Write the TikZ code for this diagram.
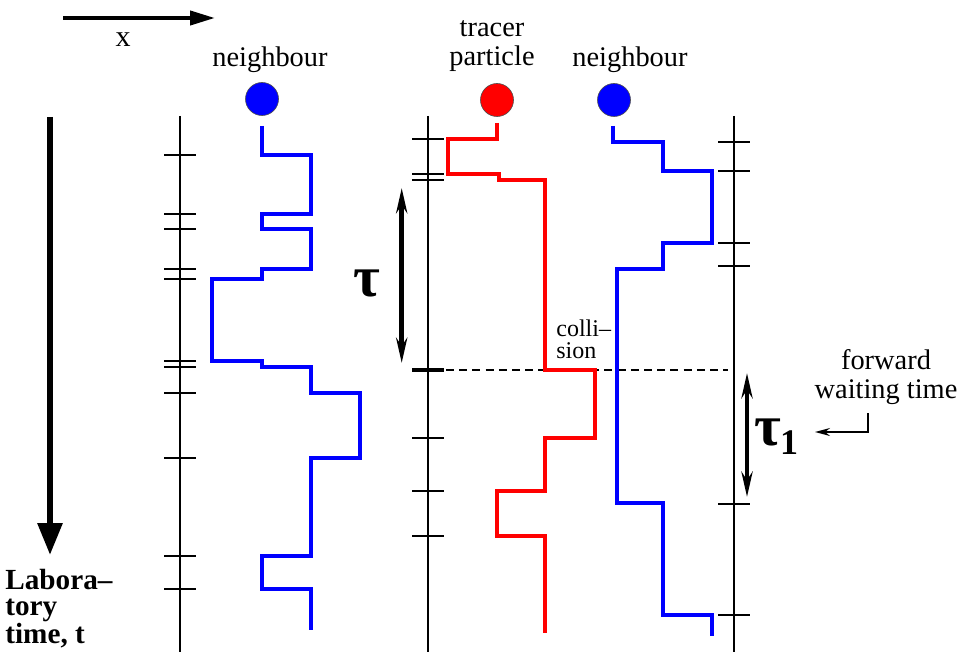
\documentclass[tikz,border=0pt]{standalone}
\usepackage{fontspec}
\setmainfont{Liberation Serif}
\usetikzlibrary{arrows.meta}

\begin{document}
\begin{tikzpicture}[x=0.5pt,y=-0.5pt,
  axisline/.style={line width=1pt},
  tickmark/.style={line width=1pt},
  trajblue/.style={blue, line width=1.8pt, line join=miter},
  trajred/.style={red, line width=1.8pt, line join=miter},
  ball/.style={circle, minimum size=16.5pt, inner sep=0pt, draw=black!70, line width=0.3pt},
  lbl/.style={font=\fontsize{14.2}{14.5}\selectfont, align=center, inner sep=0pt},
  spanarrow/.style={line width=2.3pt, {Stealth[length=12.5pt,width=5.5pt]}-{Stealth[length=12.5pt,width=5.5pt]}},
  greek/.style={font=\fontsize{29}{29}\selectfont\bfseries, inner sep=0pt},
]
\useasboundingbox (0,0) rectangle (961,652);

% direction of x and of laboratory time
\draw[line width=2pt, -{Triangle[length=12.5pt,width=7pt]}] (63,18) -- (215,18);
\node[font=\fontsize{15}{15}\selectfont, inner sep=0pt] (xlabel) at (123,40) {x};
\draw[line width=3pt, -{Triangle[length=16pt,width=12pt]}] (50,117) -- (50,555);
\node[font=\fontsize{14.6}{12.8}\selectfont\bfseries, align=left, anchor=west, inner sep=0pt]
  (labtime) at (5,609) {Labora–\\tory\\time, t};

% time axes with collision ticks
\foreach \ax/\ticks in {180/{155,214,229,269,279,361,367,393,458,556,589},
                        428/{139,174,180,438,491,536},
                        734/{142,171,243,266,504,615}}{
  \draw[axisline] (\ax,116) -- (\ax,652);
  \foreach \t in \ticks
    \draw[tickmark] (\ax-16,\t) -- (\ax+16,\t);
}
% the collision of the tracer and its continuation
\draw[dashed, dash pattern=on 4pt off 2.6pt, line width=0.9pt] (446,370) -- (728,370);
\draw[line width=1.7pt] (412,370) -- (444,370);

% particles
\node[ball, fill=blue] (nbleft) at (262,99) {};
\node[ball, fill=red] (tracer) at (497,100) {};
\node[ball, fill=blue] (nbright) at (614,100) {};
\node[lbl] (nbleftlbl) at (270,60) {neighbour};
\node[lbl] (tracerlbl) at (492,46) {tracer\\particle};
\node[lbl] (nbrightlbl) at (630,60) {neighbour};

% trajectories
\draw[trajblue] (262,126) -- (262,155) -- (311,155) -- (311,214) -- (262,214) -- (262,229)
  -- (311,229) -- (311,269) -- (262,269) -- (262,279) -- (212,279) -- (212,361) -- (262,361)
  -- (262,367) -- (311,367) -- (311,393) -- (360,393) -- (360,458) -- (311,458) -- (311,556)
  -- (262,556) -- (262,589) -- (311,589) -- (311,630);
\draw[trajred] (497,123) -- (497,139) -- (448,139) -- (448,174) -- (499,174) -- (499,180)
  -- (545,180) -- (545,370) -- (595,370) -- (595,438) -- (545,438) -- (545,491) -- (497,491)
  -- (497,536) -- (545,536) -- (545,633);
\draw[trajblue] (613,126) -- (613,142) -- (663,142) -- (663,171) -- (712,171) -- (712,243)
  -- (663,243) -- (663,269) -- (617,269) -- (617,503) -- (663,503) -- (663,615) -- (712,615)
  -- (712,636);

\node[font=\fontsize{12}{11}\selectfont, align=left, anchor=west, inner sep=0pt]
  (collision) at (556,339) {colli–\\sion};

% waiting times
\draw[spanarrow] (401.7,188) -- (401.7,363);
\node[greek] (tau) at (367,283) {τ};
\draw[spanarrow] (747,373) -- (747,497);
\node[greek, anchor=center] (tauone) at (768,432) {τ};
\node[font=\fontsize{18}{18}\selectfont\bfseries, inner sep=0pt] (tauonesub) at (789,443) {1};

\node[lbl] (fwt) at (886,377) {forward\\waiting time};
\coordinate (fwtfoot) at (868,413);
\coordinate (fwttip) at (815,432);
\draw[line width=0.7pt, -{Stealth[length=7.5pt,width=4pt]}] (fwtfoot) |- (fwttip);
\end{tikzpicture}
\end{document}
